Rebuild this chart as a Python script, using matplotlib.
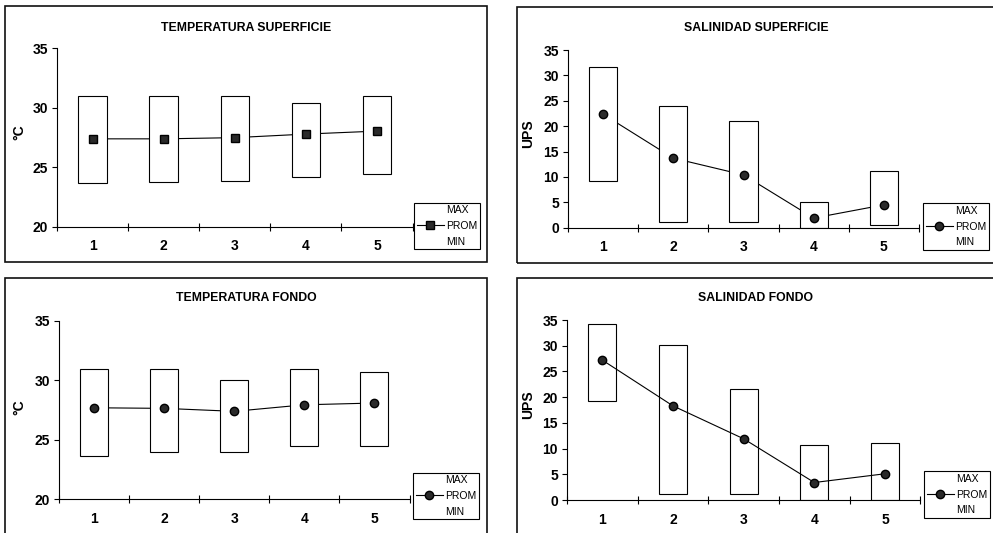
import matplotlib
matplotlib.use("Agg")
import matplotlib.pyplot as plt
from matplotlib.lines import Line2D
from matplotlib.patches import Rectangle

# Estaciones de muestreo
estaciones = [1, 2, 3, 4, 5]

# Temperatura superficie (°C)
temp_sup_max = [31.0, 31.0, 31.0, 30.45, 31.0]
temp_sup_min = [23.7, 23.75, 23.85, 24.2, 24.45]
temp_sup_prom = [27.4, 27.4, 27.5, 27.8, 28.05]

# Salinidad superficie (UPS)
sal_sup_max = [31.6, 24.0, 21.0, 5.1, 11.1]
sal_sup_min = [9.2, 1.2, 1.2, 0.0, 0.45]
sal_sup_prom = [22.35, 13.7, 10.4, 1.9, 4.5]

# Temperatura fondo (°C)
temp_fon_max = [31.0, 31.0, 30.0, 31.0, 30.7]
temp_fon_min = [23.65, 24.0, 24.0, 24.5, 24.5]
temp_fon_prom = [27.7, 27.65, 27.4, 27.95, 28.1]

# Salinidad fondo (UPS)
sal_fon_max = [34.2, 30.2, 21.6, 10.6, 11.1]
sal_fon_min = [19.3, 1.2, 1.2, 0.0, 0.0]
sal_fon_prom = [27.2, 18.3, 11.9, 3.4, 5.1]

leyenda = ["MAX", "PROM", "MIN"]

W, H = 993, 533
plt.rcParams["font.family"] = ["Liberation Sans", "DejaVu Sans"]


def fx(px):
    return px / W


def fy(py):
    return 1 - py / H


# layout in pixels: axes (x0, x1, ytop, ybottom), frame, title y, ylabel pos, legend pos
paneles = [
    dict(titulo="TEMPERATURA SUPERFICIE", ylabel="°C", ylim=(20, 35),
         mx=temp_sup_max, mn=temp_sup_min, prom=temp_sup_prom, marker="s", front=False,
         ax=(57, 412.5, 48.3, 227), frame=(5, 487, 6, 262), ty=28,
         yl=(26.5, 132.5), leg=(414, 226)),
    dict(titulo="SALINIDAD SUPERFICIE", ylabel="UPS", ylim=(0, 35),
         mx=sal_sup_max, mn=sal_sup_min, prom=sal_sup_prom, marker="o", front=False,
         ax=(568, 919, 50, 227.7), frame=(517, 1000, 7, 263), ty=28,
         yl=(535.5, 134), leg=(923, 226.5)),
    dict(titulo="TEMPERATURA FONDO", ylabel="°C", ylim=(20, 35),
         mx=temp_fon_max, mn=temp_fon_min, prom=temp_fon_prom, marker="o", front=False,
         ax=(59, 409.5, 321, 499.3), frame=(5, 487, 278, 545), ty=298,
         yl=(26.5, 407), leg=(413, 496)),
    dict(titulo="SALINIDAD FONDO", ylabel="UPS", ylim=(0, 35),
         mx=sal_fon_max, mn=sal_fon_min, prom=sal_fon_prom, marker="o", front=True,
         ax=(567, 920.3, 320, 500), frame=(517, 1000, 278, 545), ty=298,
         yl=(535.5, 404.7), leg=(924, 494.5)),
]

fig = plt.figure(figsize=(W / 100, H / 100), dpi=100)

for p in paneles:
    x0, x1, yt, yb = p["ax"]
    ax = fig.add_axes([fx(x0), fy(yb), (x1 - x0) / W, (yb - yt) / H])

    alturas = [a - b for a, b in zip(p["mx"], p["mn"])]
    ax.bar(estaciones, alturas, bottom=p["mn"], width=0.4, facecolor="white",
           edgecolor="black", linewidth=0.8, zorder=2)
    # line behind the boxes, except in salinidad fondo
    ax.plot(estaciones, p["prom"], color="black", linewidth=0.8,
            zorder=4 if p["front"] else 1)
    ax.plot(estaciones, p["prom"], linestyle="none", marker=p["marker"], markersize=6,
            markerfacecolor="#2a2a2a", markeredgecolor="black", zorder=5)

    ax.set_xlim(0.5, 5.5)
    ax.set_ylim(*p["ylim"])
    ax.set_yticks(range(p["ylim"][0], p["ylim"][1] + 1, 5))
    ax.set_xticks(estaciones)
    ax.set_xticks([e - 0.5 for e in estaciones] + [estaciones[-1] + 0.5], minor=True)
    ax.tick_params(axis="x", which="major", length=0, pad=9, labelsize=10)
    ax.tick_params(axis="x", which="minor", direction="inout", length=6, width=0.8)
    ax.tick_params(axis="y", direction="out", length=3.5, width=0.8, pad=3, labelsize=10)
    for lbl in ax.get_xticklabels() + ax.get_yticklabels():
        lbl.set_fontweight("bold")
    for s in ["top", "right"]:
        ax.spines[s].set_visible(False)
    for s in ["left", "bottom"]:
        ax.spines[s].set_linewidth(0.8)

    ax.set_ylabel(p["ylabel"], fontsize=10, fontweight="bold")
    ax.yaxis.set_label_coords(fx(p["yl"][0]), fy(p["yl"][1]), transform=fig.transFigure)

    fa, fb, ft, fbot = p["frame"]
    fig.add_artist(Rectangle((fx(fa), fy(fbot)), (fb - fa) / W, (fbot - ft) / H,
                             transform=fig.transFigure, fill=False,
                             linewidth=1.2, edgecolor="#111111"))
    fig.text(fx((fa + min(fb, 995)) / 2), fy(p["ty"]), p["titulo"], ha="center",
             va="center", fontsize=8.8, fontweight="bold")

    handles = [Line2D([], [], linestyle="none"),
               Line2D([], [], color="black", linewidth=0.8, marker=p["marker"], markersize=6,
                      markerfacecolor="#2a2a2a", markeredgecolor="black"),
               Line2D([], [], linestyle="none")]
    leg = ax.legend(handles, leyenda, loc="center left",
                    bbox_to_anchor=(fx(p["leg"][0]), fy(p["leg"][1])),
                    bbox_transform=fig.transFigure, borderaxespad=0,
                    fancybox=False, framealpha=1, edgecolor="black",
                    prop={"size": 7.5, "weight": "normal"},
                    handlelength=2.6, handletextpad=0.2, borderpad=0.25,
                    labelspacing=0.55)
    leg.get_frame().set_linewidth(0.8)

fig.savefig("out.png", dpi=100)
